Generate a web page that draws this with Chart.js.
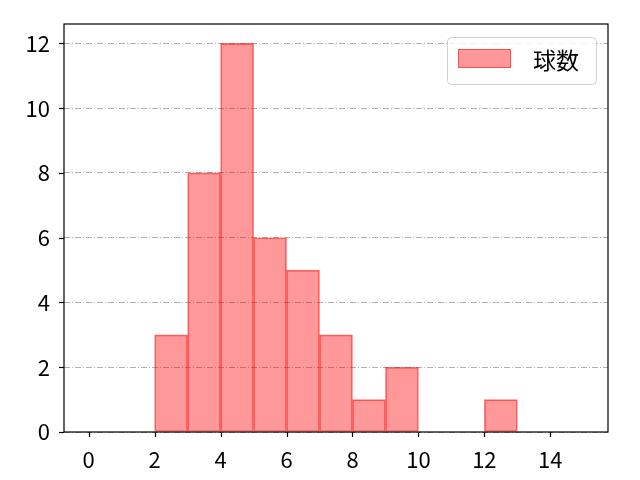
<!DOCTYPE html>
<html>
<head>
<meta charset="utf-8">
<script src="https://cdn.jsdelivr.net/npm/chart.js@4"></script>
<style>
  html, body { margin: 0; padding: 0; background: #fff; }
  #wrap { width: 640px; height: 480px; }
</style>
</head>
<body>
<div id="wrap"><canvas id="chart" width="640" height="480"></canvas></div>
<script>
// histogram bins (left edges, width 1) and counts
const binEdges = [2, 3, 4, 5, 6, 7, 8, 9, 10, 11, 12];
const counts = [3, 8, 12, 6, 5, 3, 1, 2, 0, 0, 1];
const xTicks = [0, 2, 4, 6, 8, 10, 12, 14];
const yTicks = [0, 2, 4, 6, 8, 10, 12];
const seriesLabel = '球数';

const FONT = '"Noto Sans CJK JP", "DejaVu Sans", sans-serif';

const points = binEdges.map((e, i) => ({ x: e + 0.5, y: counts[i] === 0 ? null : counts[i] }));

// legend drawn inside the plot, top right
const legendBox = {
  id: 'legendBox',
  afterDraw(chart) {
    const ctx = chart.ctx;
    const a = chart.chartArea;
    const x = 447, y = a.top + 13, w = 149, h = 47;
    ctx.save();
    ctx.fillStyle = 'rgba(255,255,255,0.8)';
    ctx.strokeStyle = '#d0d0d0';
    ctx.lineWidth = 1;
    ctx.beginPath();
    ctx.roundRect(x + 0.5, y + 0.5, w, h, 4);
    ctx.fill();
    ctx.stroke();
    ctx.fillStyle = 'rgba(255,0,0,0.4)';
    ctx.strokeStyle = 'rgba(255,0,0,0.5)';
    ctx.fillRect(x + 11, y + 12, 53, 19);
    ctx.strokeRect(x + 11.5, y + 12.5, 52, 18);
    ctx.fillStyle = '#000';
    ctx.font = '23px ' + FONT;
    ctx.textBaseline = 'middle';
    ctx.fillText(seriesLabel, x + 86, y + 23);
    ctx.restore();
  }
};

// black frame and tick marks around the plot area
const frame = {
  id: 'frame',
  afterDraw(chart) {
    const ctx = chart.ctx;
    const a = chart.chartArea;
    ctx.save();
    ctx.strokeStyle = '#000';
    ctx.lineWidth = 1.2;
    ctx.strokeRect(a.left, a.top, a.right - a.left, a.bottom - a.top);
    xTicks.forEach(v => {
      const px = Math.round(chart.scales.x.getPixelForValue(v)) + 0.5;
      ctx.beginPath(); ctx.moveTo(px, a.bottom); ctx.lineTo(px, a.bottom + 5); ctx.stroke();
    });
    yTicks.forEach(v => {
      const py = Math.round(chart.scales.y.getPixelForValue(v)) + 0.5;
      ctx.beginPath(); ctx.moveTo(a.left - 5, py); ctx.lineTo(a.left, py); ctx.stroke();
    });
    ctx.restore();
  }
};

new Chart(document.getElementById('chart'), {
  type: 'bar',
  data: {
    datasets: [{
      label: seriesLabel,
      data: points,
      backgroundColor: 'rgba(255,0,0,0.4)',
      borderColor: 'rgba(255,0,0,0.55)',
      borderWidth: 1,
      borderSkipped: false,
      barPercentage: 1,
      categoryPercentage: 1
    }]
  },
  options: {
    responsive: false,
    animation: false,
    layout: { padding: { left: 0, right: 32, top: 24, bottom: 0 } },
    plugins: { legend: { display: false }, tooltip: { enabled: false } },
    scales: {
      x: {
        type: 'linear',
        offset: false,
        min: -0.75,
        max: 15.75,
        afterFit(s) { s.height = 48; s.paddingLeft = 0; s.paddingRight = 0; },
        afterBuildTicks(s) { s.ticks = xTicks.map(v => ({ value: v })); },
        grid: { display: false },
        border: { display: false },
        ticks: { color: '#000', font: { family: FONT, size: 22 }, padding: 6, maxRotation: 0 }
      },
      y: {
        min: 0,
        max: 12.6,
        afterFit(s) { s.width = 64; s.paddingTop = 0; s.paddingBottom = 0; },
        afterBuildTicks(s) { s.ticks = yTicks.map(v => ({ value: v })); },
        grid: { color: '#b0b0b0', lineWidth: 1, drawTicks: false },
        border: { display: false, dash: [6, 2, 1, 2] },
        ticks: { color: '#000', font: { family: FONT, size: 22 }, padding: 14 }
      }
    }
  },
  plugins: [frame, legendBox]
});
</script>
</body>
</html>
